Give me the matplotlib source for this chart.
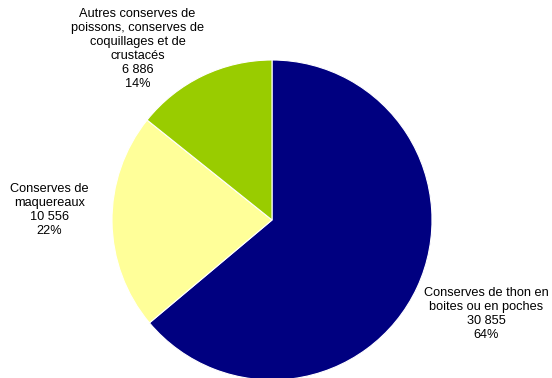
import matplotlib
matplotlib.use('Agg')
import matplotlib.pyplot as plt

plt.rcParams['font.family'] = ['Liberation Sans', 'DejaVu Sans']

labels = ['Conserves de thon en\nboites ou en poches',
          'Conserves de\nmaquereaux',
          'Autres conserves de\npoissons, conserves de\ncoquillages et de\ncrustacés']
values = [30855, 10556, 6886]
values_txt = ['30 855', '10 556', '6 886']
colors = ['#000080', '#FFFF99', '#99CC00']
# label centres (pie radius = 1)
label_pos = [(1.34, -0.59), (-1.39, 0.06), (-0.84, 1.07)]

fig = plt.figure(figsize=(5.52, 3.78), dpi=100)
ax = fig.add_axes([112/552, -2/378, 320/552, 320/378])
ax.pie(values, colors=colors, startangle=90, counterclock=False,
       wedgeprops=dict(edgecolor='white', linewidth=0.8))
ax.set_xlim(-1, 1)
ax.set_ylim(-1, 1)
ax.set_aspect('equal')
ax.axis('off')

total = sum(values)
for lab, v, vt, (x, y) in zip(labels, values, values_txt, label_pos):
    pct = round(v / total * 100)
    ax.text(x, y, f'{lab}\n{vt}\n{pct}%', ha='center', va='center',
            fontsize=9.2, linespacing=1.22, clip_on=False)

fig.savefig('out.png', dpi=100)
